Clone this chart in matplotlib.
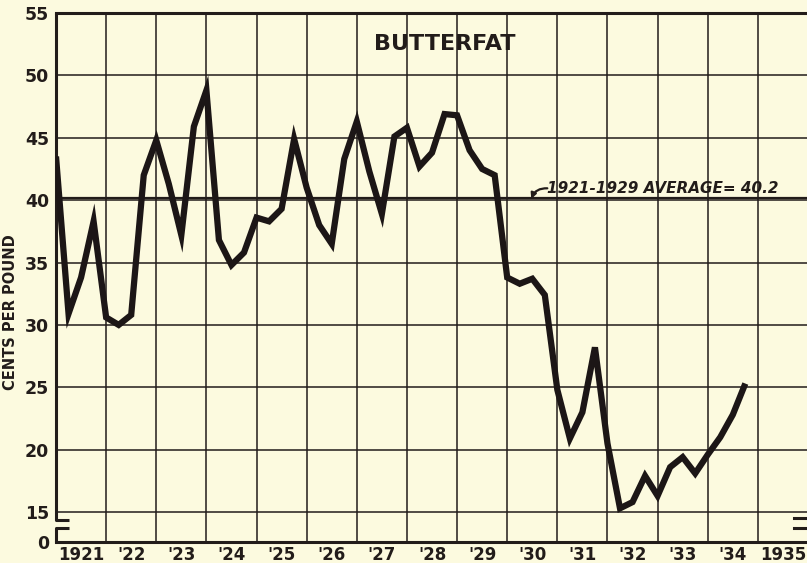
import matplotlib.pyplot as plt
import numpy as np

# quarterly butterfat prices, cents per pound, 1921 Q1 .. 1934 Q4
start_year = 1921
prices = [43.5, 30.9, 33.8, 38.3, 30.6, 30.0, 30.8, 42.0,
          44.8, 41.3, 37.2, 45.9, 48.8, 36.8, 34.8, 35.8,
          38.6, 38.3, 39.3, 44.9, 41.0, 38.0, 36.5, 43.3,
          46.3, 42.3, 38.9, 45.1, 45.8, 42.7, 43.8, 46.9,
          46.8, 44.0, 42.5, 42.0, 33.8, 33.3, 33.7, 32.4,
          24.8, 20.9, 23.0, 28.2, 20.5, 15.3, 15.8, 17.9,
          16.3, 18.6, 19.4, 18.1, 19.6, 21.0, 22.8, 25.3]
average = 40.2
year_labels = ["1921", "'22", "'23", "'24", "'25", "'26", "'27", "'28",
               "'29", "'30", "'31", "'32", "'33", "'34", "1935"]
y_ticks = [15, 20, 25, 30, 35, 40, 45, 50, 55]

t = start_year + np.arange(len(prices)) * 0.25

ink = '#221c1a'
paper = '#fcfadf'

fig = plt.figure(figsize=(8.07, 5.63), dpi=100, facecolor=paper)
ax = fig.add_axes([56 / 807, 21 / 563, 752 / 807, 529 / 563])
ax.set_facecolor(paper)

y_bottom = 12.6
ax.set_xlim(1921, 1936)
ax.set_ylim(y_bottom, 55)

# grid
years = np.arange(1921, 1936)
ax.set_xticks(years[1:])
ax.set_xticklabels([])
ax.set_xticks(years + 0.5, minor=True)
ax.set_xticklabels(year_labels, minor=True)
ax.set_yticks([y_bottom] + y_ticks)
ax.set_yticklabels(['0'] + [str(v) for v in y_ticks])
ax.tick_params(which='both', length=0, colors=ink)
ax.tick_params(axis='y', pad=5, labelsize=12.5)
ax.tick_params(axis='x', which='minor', pad=3, labelsize=12)
for lab in ax.get_yticklabels() + ax.get_xticklabels(minor=True):
    lab.set_fontweight('bold')
ax.grid(True, which='major', color=ink, lw=1.1)
ax.set_axisbelow(True)

for s in ['left', 'right']:
    ax.spines[s].set_visible(False)
for s in ['top', 'bottom']:
    ax.spines[s].set_color(ink)
    ax.spines[s].set_linewidth(2.2)

# broken left axis
tr = ax.get_yaxis_transform()
stub = 0.017
ax.plot([0, 0, stub], [55, 14.35, 14.35], color=ink, lw=2.2, transform=tr,
        clip_on=False, solid_capstyle='butt')
ax.plot([stub, 0, 0], [13.7, 13.7, y_bottom], color=ink, lw=2.2, transform=tr,
        clip_on=False, solid_capstyle='butt')
ax.plot([0.981, 1.0], [14.55, 14.55], color=ink, lw=2.2, transform=tr, clip_on=False)
ax.plot([0.981, 1.0], [13.75, 13.75], color=ink, lw=2.2, transform=tr, clip_on=False)

# average line
ax.axhline(average, color=ink, lw=1.6)

# price line
ax.plot(t, prices, color='#1c1616', lw=4.5, solid_joinstyle='miter',
        solid_capstyle='butt', zorder=5)

ax.text(1930.8, 40.95, '1921-1929 AVERAGE= 40.2', fontsize=11, fontweight='bold',
        fontstyle='italic', color=ink, ha='left', va='center')
ax.annotate('', xy=(1930.48, 40.1), xytext=(1930.8, 40.95),
            arrowprops=dict(arrowstyle='-|>', color=ink, lw=1.6,
                            connectionstyle='arc3,rad=0.35', shrinkA=0, shrinkB=0,
                            mutation_scale=8))

ax.text(1928.76, 52.5, 'BUTTERFAT', fontsize=16, fontweight='bold', color=ink,
        ha='center', va='center')

ax.set_ylabel('CENTS PER POUND', fontsize=10.5, fontweight='bold', color=ink)
ax.yaxis.set_label_coords(-0.05, 0.435)

fig.savefig('out.png', dpi=100, facecolor=paper)
